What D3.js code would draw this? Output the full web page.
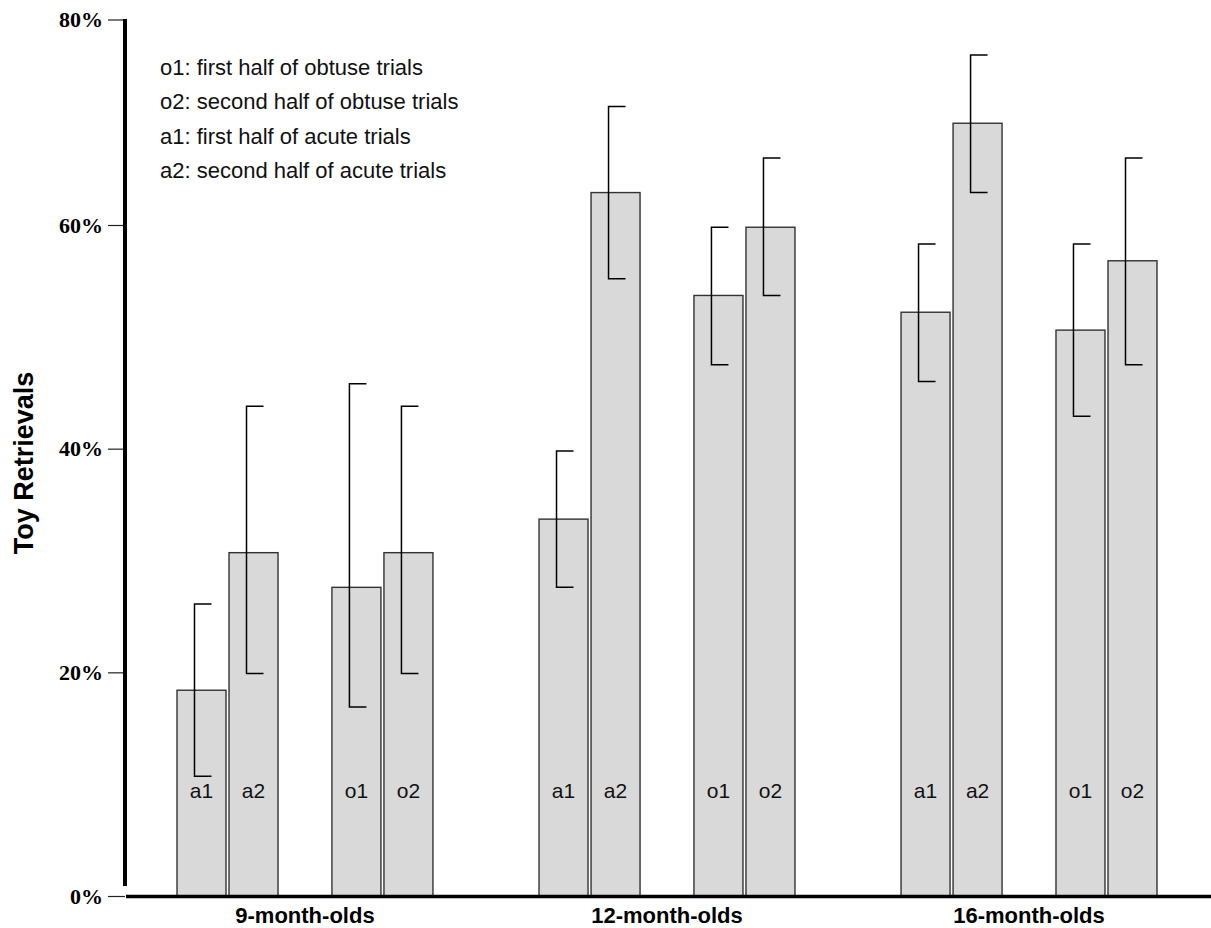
<!DOCTYPE html>
<html>
<head>
<meta charset="utf-8">
<script src="https://cdn.jsdelivr.net/npm/d3@7"></script>
<style>
  html, body { margin: 0; padding: 0; background: #fff; }
  svg { display: block; }
</style>
</head>
<body>
<svg id="chart" width="1211" height="928"></svg>
<script>
// Age groups and trial-half conditions
const groups = ["9-month-olds", "12-month-olds", "16-month-olds"];
const conditions = ["a1", "a2", "o1", "o2"];

// Mean percentage of toy retrievals per condition (one value per age group)
const meanA1 = [18.4, 33.7, 52.2];
const meanA2 = [30.7, 62.9, 69.1];
const meanO1 = [27.6, 53.7, 50.6];
const meanO2 = [30.7, 59.8, 56.8];

// Lower and upper ends of the error bars
const lowA1 = [10.7, 27.6, 46.0];
const highA1 = [26.1, 39.8, 58.3];
const lowA2 = [19.9, 55.2, 62.9];
const highA2 = [43.8, 70.6, 75.2];
const lowO1 = [16.9, 47.5, 42.9];
const highO1 = [45.8, 59.8, 58.3];
const lowO2 = [19.9, 53.7, 47.5];
const highO2 = [43.8, 66.0, 66.0];

// Y tick values and the label at the top of the axis
const yTicks = [0, 20, 40, 60];
const yTopLabel = "80%";

const legendLines = [
  "o1: first half of obtuse trials",
  "o2: second half of obtuse trials",
  "a1: first half of acute trials",
  "a2: second half of acute trials"
];

const series = {
  a1: { mean: meanA1, low: lowA1, high: highA1 },
  a2: { mean: meanA2, low: lowA2, high: highA2 },
  o1: { mean: meanO1, low: lowO1, high: highO1 },
  o2: { mean: meanO2, low: lowO2, high: highO2 }
};

const rows = [];
groups.forEach((g, gi) => {
  conditions.forEach(c => {
    rows.push({
      group: g, cond: c,
      mean: series[c].mean[gi],
      low: series[c].low[gi],
      high: series[c].high[gi]
    });
  });
});

const svg = d3.select("#chart");

const axisX = 125, axisTop = 19, baseY = 896;

const y = d3.scaleLinear().domain([0, 60]).range([baseY, 225]);

const xGroup = d3.scaleBand().domain(groups).range([177, 1157])
  .paddingInner(0.293).paddingOuter(0);
const xPair = d3.scaleBand().domain(["a", "o"]).range([0, xGroup.bandwidth()])
  .paddingInner(0.348);
const xHalf = d3.scaleBand().domain(["1", "2"]).range([0, xPair.bandwidth()])
  .paddingInner(0.058);

const barX = d => xGroup(d.group) + xPair(d.cond[0]) + xHalf(d.cond[1]);
const bw = xHalf.bandwidth();

// Bars
svg.append("g").selectAll("rect").data(rows).join("rect")
  .attr("x", barX)
  .attr("y", d => y(d.mean))
  .attr("width", bw)
  .attr("height", d => y(0) - y(d.mean))
  .attr("fill", "#d9d9d9")
  .attr("stroke", "#333")
  .attr("stroke-width", 1.4);

// Bar labels
svg.append("g").selectAll("text").data(rows).join("text")
  .attr("x", d => barX(d) + bw / 2)
  .attr("y", 798)
  .attr("text-anchor", "middle")
  .attr("font-family", "Liberation Sans, Arial, sans-serif")
  .attr("font-size", 21)
  .attr("fill", "#111")
  .text(d => d.cond);

// Error brackets: vertical stem with caps pointing right
const stemOff = bw * 0.357, capEnd = bw * 0.704;
const eb = svg.append("g").attr("stroke", "#000").attr("stroke-width", 1.5).attr("fill", "none");
eb.selectAll("path").data(rows).join("path")
  .attr("d", d => {
    const x0 = barX(d) + stemOff, x1 = barX(d) + capEnd;
    return `M${x1},${y(d.high)}H${x0}V${y(d.low)}H${x1}`;
  });

// Y axis
const yAxis = d3.axisLeft(y).tickValues(yTicks).tickSize(17).tickPadding(5)
  .tickFormat(d => d + "%");
const gy = svg.append("g").attr("transform", `translate(${axisX},0)`).call(yAxis);
gy.select(".domain").remove();
gy.selectAll(".tick line").attr("stroke", "#222").attr("stroke-width", 1.2);
gy.selectAll(".tick text")
  .attr("font-family", "Liberation Serif, Times New Roman, serif")
  .attr("font-weight", "bold")
  .attr("font-size", 22)
  .attr("fill", "#000");

// Top of axis tick and label
svg.append("line").attr("x1", axisX - 17).attr("x2", axisX)
  .attr("y1", axisTop + 1).attr("y2", axisTop + 1)
  .attr("stroke", "#222").attr("stroke-width", 1.2);
svg.append("text").attr("x", axisX - 22).attr("y", axisTop + 1).attr("dy", "0.32em")
  .attr("text-anchor", "end")
  .attr("font-family", "Liberation Serif, Times New Roman, serif")
  .attr("font-weight", "bold").attr("font-size", 22).text(yTopLabel);

// Thick vertical axis line and baseline
svg.append("line").attr("x1", axisX).attr("x2", axisX)
  .attr("y1", axisTop).attr("y2", 886)
  .attr("stroke", "#000").attr("stroke-width", 4);
svg.append("line").attr("x1", 126).attr("x2", 1211)
  .attr("y1", baseY + 0.5).attr("y2", baseY + 0.5)
  .attr("stroke", "#000").attr("stroke-width", 3.5);

// Group labels
svg.append("g").selectAll("text").data(groups).join("text")
  .attr("x", g => xGroup(g) + xGroup.bandwidth() / 2)
  .attr("y", 923)
  .attr("text-anchor", "middle")
  .attr("font-family", "Liberation Sans, Arial, sans-serif")
  .attr("font-weight", "bold")
  .attr("font-size", 22)
  .text(g => g);

// Y axis title
svg.append("text")
  .attr("transform", "translate(33,463) rotate(-90)")
  .attr("text-anchor", "middle")
  .attr("font-family", "Liberation Sans, Arial, sans-serif")
  .attr("font-weight", "bold")
  .attr("font-size", 27)
  .text("Toy Retrievals");

// Legend
svg.append("g").selectAll("text").data(legendLines).join("text")
  .attr("x", 160)
  .attr("y", (d, i) => 75 + i * 34.3)
  .attr("font-family", "Liberation Sans, Arial, sans-serif")
  .attr("font-size", 22)
  .attr("fill", "#111")
  .text(d => d);
</script>
</body>
</html>
